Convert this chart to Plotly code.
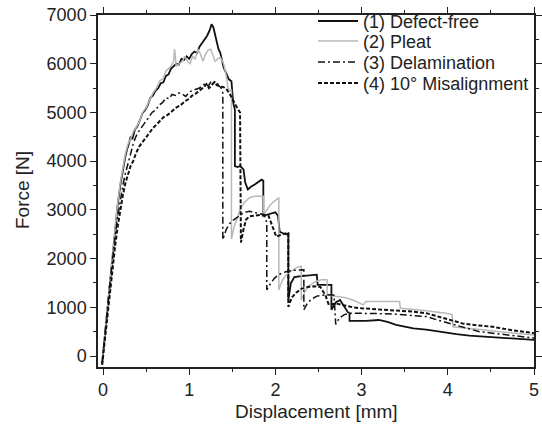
import plotly.graph_objects as go

# ---- data: (displacement [mm], force [N]) ----
defect_free = [(-0.01,-150),(0.02,400),(0.05,1000),(0.08,1600),(0.11,2150),(0.14,2650),(0.17,3100),(0.20,3500),
    (0.23,3850),(0.26,4100),(0.28,4250),(0.30,4350),(0.32,4500),(0.34,4450),(0.37,4650),(0.40,4720),(0.43,4850),
    (0.46,4990),(0.49,5050),(0.52,5150),(0.55,5300),(0.58,5350),(0.61,5450),(0.64,5500),(0.67,5600),(0.70,5620),
    (0.73,5750),(0.76,5780),(0.79,5900),(0.82,5950),(0.85,6000),(0.88,5980),(0.91,6100),(0.94,6080),(0.97,6150),
    (1.00,6100),(1.03,6200),(1.06,6250),(1.09,6220),(1.12,6350),(1.15,6420),(1.18,6500),(1.21,6580),(1.24,6700),
    (1.26,6810),(1.28,6750),(1.30,6600),(1.32,6430),(1.34,6300),(1.36,6230),(1.38,6100),(1.40,5920),(1.43,5800),
    (1.46,5680),(1.49,5640),(1.50,5400),(1.51,5200),(1.53,5060),(1.53,3900),(1.56,3880),(1.59,3900),(1.63,3830),
    (1.65,3560),(1.68,3420),(1.72,3480),(1.76,3520),(1.80,3580),(1.84,3620),(1.86,3600),(1.86,2870),(1.90,2900),
    (1.95,2920),(2.00,2950),(2.03,2880),(2.05,2550),(2.09,2520),(2.13,2500),(2.15,2520),(2.15,1150),(2.18,1500),
    (2.22,1620),(2.30,1640),(2.40,1660),(2.48,1670),(2.49,1460),(2.55,1460),(2.65,1460),(2.65,950),(2.70,1100),
    (2.75,1150),(2.80,1000),(2.84,900),(2.86,880),(2.86,720),(2.95,720),(3.05,720),(3.20,740),(3.30,700),
    (3.40,640),(3.50,600),(3.60,570),(3.75,540),(3.90,500),(3.98,470),(4.10,450),(4.25,420),(4.40,400),
    (4.55,380),(4.70,360),(4.85,340),(5.00,330)]

pleat = [(-0.01,-120),(0.02,420),(0.05,1050),(0.08,1650),(0.11,2200),(0.14,2700),(0.17,3150),(0.20,3550),
    (0.23,3900),(0.26,4150),(0.29,4350),(0.32,4450),(0.35,4600),(0.38,4700),(0.42,4800),(0.46,5000),(0.50,5100),
    (0.54,5250),(0.58,5400),(0.62,5500),(0.66,5650),(0.70,5700),(0.73,5850),(0.76,5900),(0.79,5950),(0.82,6050),
    (0.83,6300),(0.85,5950),(0.88,6000),(0.92,6050),(0.95,6150),(0.98,6050),(1.01,6000),(1.04,6150),(1.07,6100),
    (1.10,6300),(1.13,6200),(1.16,6050),(1.19,6200),(1.22,6280),(1.25,6300),(1.28,6150),(1.30,6050),(1.33,6100),
    (1.36,6130),(1.40,6000),(1.43,5750),(1.45,5500),(1.48,5440),(1.49,5450),(1.49,2400),(1.52,2650),(1.56,2870),
    (1.60,3050),(1.64,3150),(1.70,3250),(1.76,3280),(1.82,3280),(1.86,3280),(1.86,2870),(1.90,3000),(1.95,3120),
    (2.00,3200),(2.04,3250),(2.04,1360),(2.08,1550),(2.13,1680),(2.20,1770),(2.26,1830),(2.30,1840),(2.30,1150),
    (2.35,1350),(2.40,1450),(2.46,1520),(2.52,1560),(2.58,1570),(2.60,1560),(2.60,1250),(2.70,1220),(2.80,1200),
    (2.90,1150),(3.00,1080),(3.02,1050),(3.05,1120),(3.20,1120),(3.44,1120),(3.45,980),(3.60,960),(3.75,930),
    (3.98,880),(4.05,850),(4.06,600),(4.20,580),(4.40,540),(4.60,500),(4.80,460),(5.00,430)]

delamination = [(-0.01,-150),(0.02,350),(0.05,950),(0.08,1500),(0.11,2000),(0.14,2450),(0.17,2850),(0.20,3200),
    (0.23,3500),(0.26,3750),(0.29,3950),(0.32,4200),(0.35,4350),(0.38,4500),(0.41,4600),(0.45,4700),(0.49,4790),
    (0.53,4900),(0.57,5000),(0.61,5050),(0.65,5150),(0.69,5200),(0.73,5300),(0.77,5280),(0.80,5370),(0.84,5350),
    (0.88,5400),(0.92,5380),(0.96,5330),(1.00,5420),(1.04,5450),(1.08,5470),(1.12,5500),(1.16,5560),(1.19,5600),
    (1.22,5540),(1.25,5620),(1.28,5600),(1.31,5640),(1.34,5560),(1.37,5500),(1.39,5400),(1.39,2390),(1.43,2600),
    (1.47,2720),(1.52,2800),(1.58,2880),(1.64,2950),(1.70,2970),(1.76,2950),(1.82,2930),(1.87,2900),(1.90,2740),
    (1.90,1360),(1.94,1480),(1.99,1600),(2.05,1680),(2.12,1730),(2.20,1760),(2.27,1770),(2.33,1770),(2.33,950),
    (2.37,1080),(2.42,1170),(2.48,1230),(2.55,1250),(2.62,1260),(2.68,1250),(2.70,650),(2.74,780),(2.80,850),
    (2.88,880),(3.00,880),(3.20,870),(3.40,860),(3.60,840),(3.75,810),(3.90,730),(4.05,650),(4.20,580),
    (4.37,500),(4.55,460),(4.75,420),(5.00,370)]

misalignment = [(-0.01,-180),(0.02,300),(0.05,850),(0.08,1350),(0.11,1800),(0.14,2250),(0.17,2650),(0.20,3000),
    (0.23,3300),(0.26,3550),(0.29,3750),(0.32,3900),(0.35,4000),(0.38,4150),(0.42,4300),(0.46,4400),(0.50,4500),
    (0.54,4600),(0.58,4680),(0.62,4750),(0.66,4830),(0.70,4900),(0.75,4950),(0.80,5030),(0.85,5100),(0.90,5150),
    (0.95,5230),(1.00,5280),(1.03,5340),(1.07,5380),(1.10,5420),(1.14,5470),(1.17,5520),(1.20,5580),(1.23,5500),
    (1.26,5560),(1.29,5620),(1.32,5560),(1.36,5530),(1.40,5520),(1.44,5460),(1.48,5350),(1.52,5200),(1.56,5080),
    (1.59,5000),(1.60,2330),(1.63,2600),(1.66,2800),(1.70,2870),(1.75,2880),(1.80,2880),(1.86,2900),(1.92,2880),
    (1.95,2750),(1.97,2660),(2.01,2450),(2.05,2480),(2.10,2500),(2.15,2530),(2.15,1010),(2.19,1200),(2.24,1300),
    (2.30,1380),(2.38,1420),(2.45,1430),(2.52,1420),(2.58,1250),(2.62,1050),(2.70,1080),(2.80,1040),(2.90,1000),
    (3.00,980),(3.21,960),(3.44,940),(3.60,910),(3.75,880),(3.95,780),(4.17,670),(4.35,630),(4.52,600),
    (4.75,530),(5.00,470)]

series_names = ["(1) Defect-free", "(2) Pleat", "(3) Delamination", "(4) 10\u00b0 Misalignment"]
x_ticks = [0, 1, 2, 3, 4, 5]
y_ticks = [0, 1000, 2000, 3000, 4000, 5000, 6000, 7000]
x_title = "Displacement [mm]"
y_title = "Force [N]"

styles = [
    dict(color="#111111", width=1.8, dash="solid"),
    dict(color="#b8b8b8", width=1.5, dash="solid"),
    dict(color="#111111", width=1.5, dash="7px,3px,2px,3px"),
    dict(color="#111111", width=2.0, dash="4px,2px"),
]

FONT = "Liberation Sans, Arial, sans-serif"
INK = "#222222"

# plot-area geometry (pixels) used to place the hand-made legend
L, R, T, B = 98, 8, 15, 61
W, H = 542, 428
pw, ph = W - L - R, H - T - B
def px_x(p):
    return (p - L) / pw
def px_y(p):
    return (H - B - p) / ph

fig = go.Figure()
for name, data, st in zip(series_names, [defect_free, pleat, delamination, misalignment], styles):
    fig.add_trace(go.Scatter(
        x=[p[0] for p in data], y=[p[1] for p in data], mode="lines", name=name,
        line=dict(color=st["color"], width=st["width"], dash=st["dash"]),
        showlegend=False,
    ))

# legend drawn inside the frame (tight rows like the original)
legend_rows = [21, 41, 62, 83]
for name, st, ry in zip(series_names, styles, legend_rows):
    fig.add_shape(type="line", xref="paper", yref="paper",
                  x0=px_x(318), x1=px_x(358), y0=px_y(ry), y1=px_y(ry),
                  line=dict(color=st["color"], width=st["width"], dash=st["dash"]))
    fig.add_annotation(xref="paper", yref="paper", x=px_x(361), y=px_y(ry + 1),
                       xanchor="left", yanchor="middle", showarrow=False, text=name,
                       font=dict(family=FONT, size=18, color=INK))

# axis titles
fig.add_annotation(xref="paper", yref="paper", x=px_x(316), y=px_y(411), xanchor="center", yanchor="middle",
                   showarrow=False, text=x_title, font=dict(family=FONT, size=19, color=INK))
fig.add_annotation(xref="paper", yref="paper", x=px_x(22), y=px_y(190), xanchor="center", yanchor="middle",
                   showarrow=False, text=y_title, textangle=-90, font=dict(family=FONT, size=19, color=INK))

axis_font = dict(family=FONT, size=18, color=INK)
common = dict(
    showline=True, linecolor=INK, linewidth=1.5, mirror="ticks",
    ticks="outside", ticklen=6, tickwidth=1.3, tickcolor=INK,
    showgrid=False, zeroline=False, tickfont=axis_font, automargin=False,
)
fig.update_layout(
    width=W, height=H,
    margin=dict(l=L, r=R, t=T, b=B),
    paper_bgcolor="white", plot_bgcolor="white",
    font=axis_font,
    showlegend=False,
    xaxis=dict(range=[-0.058, 5], tickvals=x_ticks,
               minor=dict(ticks="outside", ticklen=3, tickwidth=1, dtick=0.5, tickcolor=INK),
               **common),
    yaxis=dict(range=[-225, 7000], tickvals=y_ticks,
               minor=dict(ticks="outside", ticklen=3, tickwidth=1, dtick=500, tickcolor=INK),
               **common),
)
fig.write_html("out.html", config={"displayModeBar": False},
               post_script="document.body.style.margin='0px';document.body.style.overflow='hidden';")
